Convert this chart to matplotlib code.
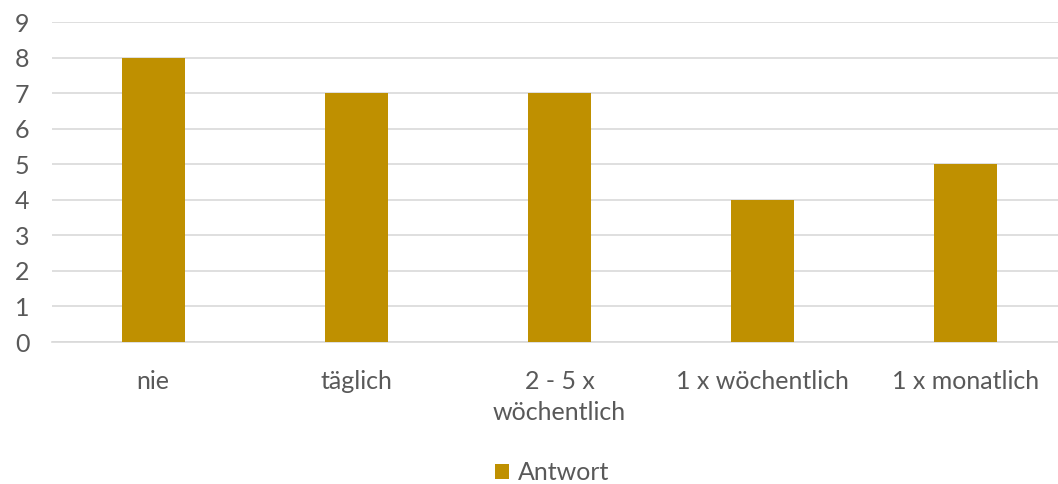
import matplotlib.pyplot as plt

categories = ['nie', 'täglich', '2 - 5 x\nwöchentlich', '1 x wöchentlich', '1 x monatlich']
values = [8, 7, 7, 4, 5]
series_name = 'Antwort'
bar_color = '#BF9000'
text_color = '#595959'

plt.rcParams['font.family'] = ['Lato', 'DejaVu Sans']

fig = plt.figure(figsize=(10.58, 4.84), dpi=100)
ax = fig.add_axes([51.5 / 1058, 142 / 484, 1016 / 1058, 320 / 484])

x = range(len(categories))
ax.bar(x, values, width=0.31, color=bar_color, label=series_name, zorder=3)

ax.set_ylim(0, 9)
ax.set_xlim(-0.5, len(categories) - 0.5)
ax.set_yticks(range(0, 10))
ax.yaxis.grid(True, color='#D9D9D9', linewidth=1.2, zorder=0)
ax.set_xticks(list(x))
ax.set_xticklabels(categories, fontsize=18, color=text_color, linespacing=1.42)
ax.tick_params(axis='y', labelsize=18, labelcolor=text_color, length=0, pad=16)
ax.tick_params(axis='x', length=0, pad=20)
for side in ['top', 'right', 'left']:
    ax.spines[side].set_visible(False)
ax.spines['bottom'].set_color('#D9D9D9')
ax.spines['bottom'].set_linewidth(1.2)

fig.legend(loc='center', bbox_to_anchor=(552 / 1058, 1 - 473 / 484), frameon=False,
           fontsize=18, labelcolor=text_color, handlelength=0.55, handleheight=0.55,
           handletextpad=0.35)

fig.savefig('out.png', dpi=100)
